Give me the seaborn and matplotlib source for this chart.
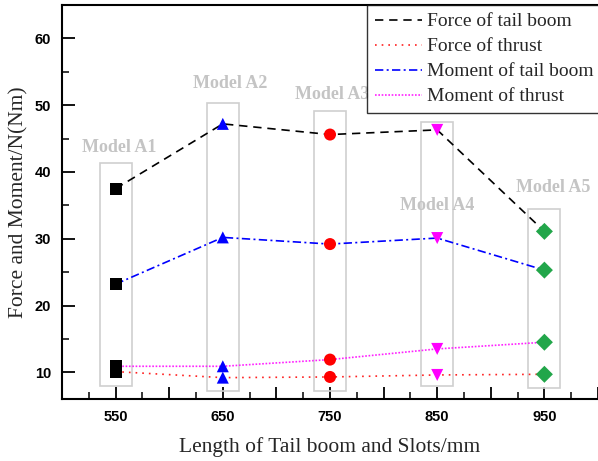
import matplotlib
matplotlib.use("Agg")
import matplotlib.pyplot as plt
from matplotlib.patches import Rectangle
from matplotlib.ticker import MultipleLocator, FixedLocator, FuncFormatter
import numpy as np
import pandas as pd
import seaborn as sns

# Tail boom / slot lengths (mm) and model names
lengths = [550, 650, 750, 850, 950]
models = ["Model A1", "Model A2", "Model A3", "Model A4", "Model A5"]

# Measured forces (N) and moments (Nm)
force_tail_boom = [37.5, 47.2, 45.6, 46.3, 31.1]
force_thrust = [10.1, 9.2, 9.3, 9.6, 9.7]
moment_tail_boom = [23.2, 30.2, 29.2, 30.1, 25.3]
moment_thrust = [10.9, 10.9, 11.9, 13.5, 14.5]

series_names = ["Force of tail boom", "Force of thrust",
                "Moment of tail boom", "Moment of thrust"]
series_values = [force_tail_boom, force_thrust, moment_tail_boom, moment_thrust]

rows = []
for name, vals in zip(series_names, series_values):
    for x, m, v in zip(lengths, models, vals):
        rows.append({"length": x, "model": m, "series": name, "value": v})
df = pd.DataFrame(rows)

sns.set_style("ticks")

fig = plt.figure(figsize=(5.98, 4.61), dpi=100)
ax = fig.add_axes([62 / 598, 1 - 399 / 461, 536 / 598, 394 / 461])

line_colors = {"Force of tail boom": "black", "Force of thrust": "#ff2020",
               "Moment of tail boom": "#0000ff", "Moment of thrust": "#ff20ff"}
line_dashes = {"Force of tail boom": (5, 3.5), "Force of thrust": (1, 3),
               "Moment of tail boom": (5, 2, 1.2, 2), "Moment of thrust": (1, 1)}

sns.lineplot(data=df, x="length", y="value", hue="series", style="series",
             palette=line_colors, dashes=line_dashes, markers=False,
             hue_order=series_names, style_order=series_names,
             linewidth=1.2, ax=ax, legend=True, zorder=2)

model_colors = {"Model A1": "black", "Model A2": "#0000ff", "Model A3": "#ff0000",
                "Model A4": "#ff00ff", "Model A5": "#22a64a"}
model_markers = {"Model A1": "s", "Model A2": "^", "Model A3": "o",
                 "Model A4": "v", "Model A5": "D"}
sns.scatterplot(data=df, x="length", y="value", hue="model", style="model",
                palette=model_colors, markers=model_markers, s=75,
                edgecolor="none", linewidth=0, ax=ax, legend=False, zorder=3)

# Grey frames around each model's column, with their captions
box_half_width = 15
box_bottom = [7.9, 7.2, 7.2, 8.0, 7.6]
box_top = [41.4, 50.3, 49.2, 47.5, 34.5]
caption_x = [553, 657, 752, 850, 958]
caption_y = [43.6, 53.3, 51.6, 35.0, 37.6]
for x, b, t, cx, cy, m in zip(lengths, box_bottom, box_top, caption_x, caption_y, models):
    ax.add_patch(Rectangle((x - box_half_width, b), 2 * box_half_width, t - b,
                           fill=False, edgecolor="#cfcfcf", linewidth=1.2, zorder=1))
    ax.text(cx, cy, m, ha="center", va="center", color="#c4c4c4",
            fontsize=13, fontweight="bold", family="Liberation Serif")

ax.set_xlim(500, 1000)
ax.set_ylim(6, 65)

ax.xaxis.set_major_locator(MultipleLocator(50))
ax.xaxis.set_minor_locator(MultipleLocator(25))
ax.xaxis.set_major_formatter(FuncFormatter(
    lambda v, p: f"{int(round(v))}" if int(round(v)) in lengths else ""))
ax.yaxis.set_major_locator(FixedLocator([10, 20, 30, 40, 50, 60]))
ax.yaxis.set_minor_locator(FixedLocator([15, 25, 35, 45, 55]))

ax.tick_params(axis="both", which="major", direction="in", length=9, width=1.3,
               labelsize=10.5, pad=8, colors="black")
ax.tick_params(axis="both", which="minor", direction="in", length=5, width=1.3)
for lab in ax.get_xticklabels() + ax.get_yticklabels():
    lab.set_fontweight("bold")
    lab.set_family("Liberation Sans")

for side in ["left", "bottom", "top"]:
    ax.spines[side].set_linewidth(1.5)
    ax.spines[side].set_color("black")
ax.spines["right"].set_visible(False)

ax.set_xlabel("Length of Tail boom and Slots/mm", fontsize=15.5,
              family="Liberation Serif", labelpad=9)
ax.set_ylabel("Force and Moment/N(Nm)", fontsize=15.5,
              family="Liberation Serif", labelpad=4)

leg = ax.legend(loc="upper left", bbox_to_anchor=(0.569, 1.0), borderaxespad=0,
                frameon=True, fancybox=False, edgecolor="black",
                prop={"family": "Liberation Serif", "size": 14},
                handlelength=2.45, handletextpad=0.25, labelspacing=0.38,
                borderpad=0.4)
leg.get_frame().set_linewidth(1.0)
leg.set_title(None)

fig.savefig("out.png", dpi=100)
